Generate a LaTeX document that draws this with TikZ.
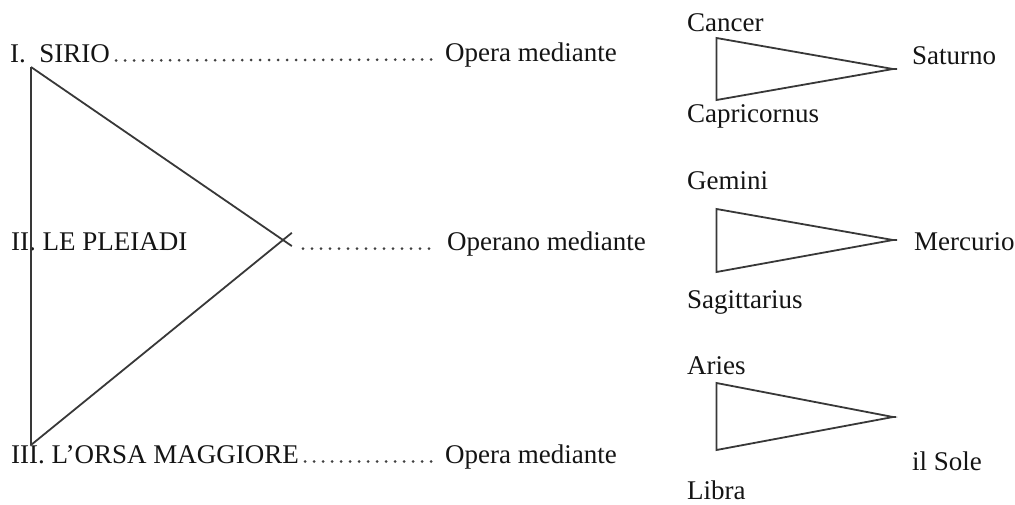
\documentclass[tikz,border=0pt]{standalone}
\usepackage{fontspec}
\setmainfont{Liberation Serif}
\usetikzlibrary{calc}
\begin{document}
\begin{tikzpicture}[x=1pt,y=-1pt,
  lbl/.style={inner sep=0pt,anchor=base west,font=\fontsize{27}{32}\selectfont,text=black!92},
  edge/.style={draw=black!78,line width=1.8pt,line join=miter},
  leader/.style={draw=black!75,line width=3pt,line cap=round,dash pattern=on 0pt off 9pt}]
\useasboundingbox (0,0) rectangle (1015,504);
% left labels
\node[lbl] (sirio) at (10,62) {I.\ \ SIRIO};
\node[lbl] (pleiadi) at (11,250) {II. LE PLEIADI};
\node[lbl] (orsa) at (11,463) {III. L’ORSA MAGGIORE};
\node[lbl] (op1) at (445,61) {Opera mediante};
\node[lbl] (op2) at (447,250) {Operano mediante};
\node[lbl] (op3) at (445,463) {Opera mediante};
% big triangle
\coordinate (A) at (31,67);
\coordinate (B) at (31,445);
\coordinate (C) at (283,240);
\draw[edge] (A) -- (B);
\draw[edge] (A) -- ($(A)!1.035!(C)$);
\draw[edge] (B) -- ($(B)!1.035!(C)$);
% leaders
\draw[leader] ([xshift=6pt,yshift=1.5pt]sirio.base east) -- ([xshift=-9pt,yshift=1.5pt]op1.base west);
\draw[leader] (303,248.5) -- ([xshift=-13pt,yshift=1.5pt]op2.base west);
\draw[leader] ([xshift=6pt,yshift=1.5pt]orsa.base east) -- ([xshift=-9pt,yshift=1.5pt]op3.base west);
% right labels
\node[lbl] (cancer) at (687,31) {Cancer};
\node[lbl] (capri) at (687,122) {Capricornus};
\node[lbl] (saturno) at (912,64) {Saturno};
\node[lbl] (gemini) at (687,189) {Gemini};
\node[lbl] (sagit) at (687,308) {Sagittarius};
\node[lbl] (mercurio) at (914,250) {Mercurio};
\node[lbl] (aries) at (687,374) {Aries};
\node[lbl] (libra) at (687,499) {Libra};
\node[lbl] (sole) at (912,470) {il Sole};
% small triangles
\coordinate (t1a) at (716.5,38);  \coordinate (t1b) at (716.5,100); \coordinate (t1c) at (893,69);
\coordinate (t2a) at (716.5,209); \coordinate (t2b) at (716.5,272); \coordinate (t2c) at (893,240);
\coordinate (t3a) at (716.5,383); \coordinate (t3b) at (716.5,450); \coordinate (t3c) at (893,417);
\draw[edge] (t1a) -- (t1c) -- (t1b) -- cycle;
\draw[edge] (t1c) -- ++(4,0);
\draw[edge] (t2a) -- (t2c) -- (t2b) -- cycle;
\draw[edge] (t2c) -- ++(4,0);
\draw[edge] (t3a) -- (t3c) -- (t3b) -- cycle;
\draw[edge] (t3c) -- ++(3,0);
\end{tikzpicture}
\end{document}
